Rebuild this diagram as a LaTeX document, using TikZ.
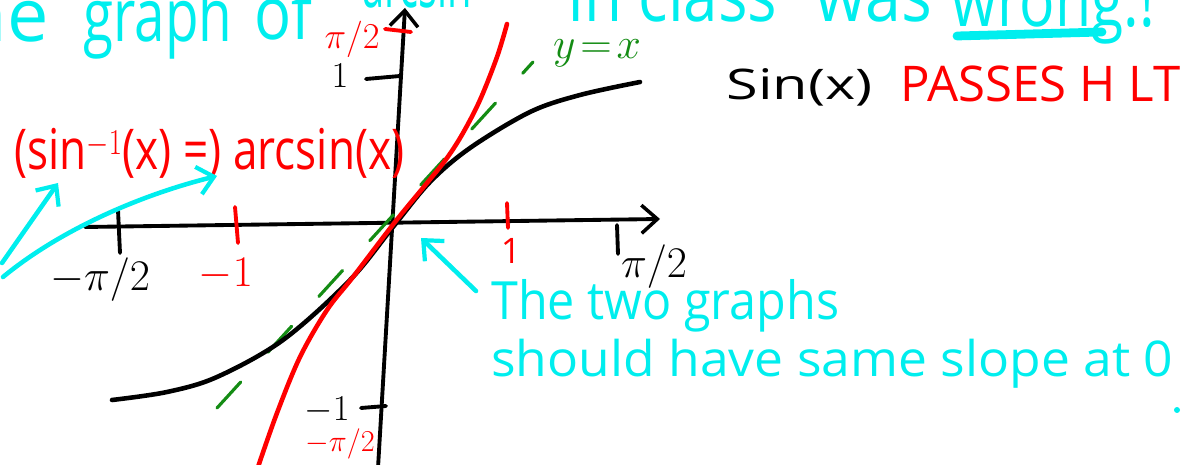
\documentclass[tikz,border=0pt]{standalone}
\usepackage{fontspec}
\setmainfont{Open Sans}
\usetikzlibrary{arrows.meta}
\definecolor{hcyan}{RGB}{0,238,238}
\definecolor{hred}{RGB}{255,0,0}
\definecolor{hgreen}{RGB}{20,140,20}
\newcommand{\hwbox}[2]{\resizebox{#1}{\height}{#2}}
\tikzset{
  pen/.style={line width=2.2pt, line cap=round, line join=round},
  axisline/.style={pen, black, -{Straight Barb[length=9pt,width=16pt,line width=2pt]}},
  tickline/.style={pen},
  cyanarrow/.style={pen, hcyan, line width=2.6pt, -{Straight Barb[length=9pt,width=16pt,line width=2.4pt]}},
  hw/.style={inner sep=0pt},
  titleword/.style={hw, hcyan, anchor=base west, font=\fontsize{42}{44}\selectfont},
  curve/.style={pen, line width=2.6pt},
}
\begin{document}
\begin{tikzpicture}[x=0.02cm,y=-0.02cm]
\useasboundingbox (0,0) rectangle (1191,465);
\clip (0,0) rectangle (1191,465);

% top line (cut off by the top edge)
\node[titleword, anchor=base east] (t1) at (49,42) {The};
\node[titleword] (t2) at (83,42) {\hwbox{2.98cm}{graph}};
\node[titleword] (t3) at (254,40) {\hwbox{1.16cm}{of}};
\node[titleword] (t4) at (362,8) {\hwbox{2.2cm}{arcsin}};
\node[titleword] (t5) at (567,22) {\hwbox{4.2cm}{In class}};
\node[titleword] (t6) at (815,22) {\hwbox{2.34cm}{was}};
\node[titleword] (t7) at (951,27) {\hwbox{4.08cm}{wrong.!}};
\draw[pen, hcyan, line width=5pt] (957,36) -- (1102,32);

% axes
\coordinate (xs) at (85,227);
\coordinate (xe) at (660,219);
\coordinate (ys) at (378,468);
\coordinate (ye) at (405,8);
\draw[axisline] (xs) -- (xe);
\draw[axisline] (ys) -- (ye);

% x ticks
\draw[tickline] (118,210) -- (120,253);
\node[hw, black, font=\fontsize{28}{30}\selectfont] (xmpi) at (100,280) {$-\pi/2$};
\draw[tickline, hred] (235,207) -- (238,243);
\node[hw, hred, font=\fontsize{24}{26}\selectfont] (xm1) at (226,274) {$-1$};
\draw[tickline, hred] (507,203) -- (508,228);
\node[hw, hred, font=\fontsize{20}{22}\selectfont] (x1) at (511,251) {1};
\draw[tickline] (617,225) -- (618,254);
\node[hw, black, font=\fontsize{28}{30}\selectfont] (xpi) at (654,267) {$\pi/2$};

% y ticks
\draw[tickline] (366,79) -- (400,76);
\node[hw, black, font=\fontsize{22}{24}\selectfont] (y1) at (340,76) {$1$};
\draw[tickline, hred] (385,29) -- (411,32);
\node[hw, hred, font=\fontsize{20}{22}\selectfont] (ypi) at (352,39) {$\pi/2$};
\draw[tickline] (361,408) -- (386,406);
\node[hw, black, font=\fontsize{22}{24}\selectfont] (ym1) at (327,410) {$-1$};
\node[hw, hred, font=\fontsize{18}{20}\selectfont] (ympi) at (340,444) {$-\pi/2$};

% y = x dashed
\draw[pen, hgreen, line width=1.8pt, dash pattern=on 20pt off 23pt] (217,408) -- (533,62);
\node[hw, hgreen, font=\fontsize{28}{30}\selectfont] (yx) at (597,53) {$y\!=\!x$};

% sin curve
\draw[curve, black] plot[smooth, tension=0.55] coordinates {(112,400) (167,392) (217,377) (283,340) (350,280) (393,227) (430,182) (470,148) (530,112) (580,95) (640,82)};
% arcsin curve
\draw[curve, hred] plot[smooth, tension=0.55] coordinates {(258,467) (277,413) (300,357) (327,310) (353,277) (395,222) (427,183) (447,158) (463,133) (480,100) (497,57) (507,24)};

% labels
\node[hw, black, anchor=base west, font=\fontsize{24}{26}\selectfont] (sinx) at (726,100) {\hwbox{2.92cm}{Sin(x)}};
\node[hw, hred, anchor=base west, font=\fontsize{28}{30}\selectfont] (passes) at (900,102) {\hwbox{5.6cm}{PASSES H LT}};
\node[hw, hred, anchor=base west, font=\fontsize{32}{34}\selectfont] (arcs) at (14,170) {\hwbox{7.8cm}{(sin$^{-1}$(x) =) arcsin(x)}};
\node[hw, hcyan, anchor=base west, font=\fontsize{30}{32}\selectfont] (two) at (491,320) {\hwbox{6.96cm}{The two graphs}};
\node[hw, hcyan, anchor=base west, font=\fontsize{28}{30}\selectfont] (same) at (491,377) {\hwbox{13.64cm}{should have same slope at 0}};

% cyan arrows
\coordinate (a1s) at (2,263);
\coordinate (a1e) at (58,183);
\draw[cyanarrow] (a1s) -- (a1e);
\coordinate (a2s) at (3,277);
\coordinate (a2e) at (217,176);
\draw[cyanarrow] (a2s) .. controls (60,230) and (140,195) .. (a2e);
\coordinate (a3s) at (476,291);
\coordinate (a3e) at (421,238);
\draw[cyanarrow] (a3s) -- (a3e);

% stray dot
\fill[hcyan] (1177,410) circle (3);
\end{tikzpicture}
\end{document}
